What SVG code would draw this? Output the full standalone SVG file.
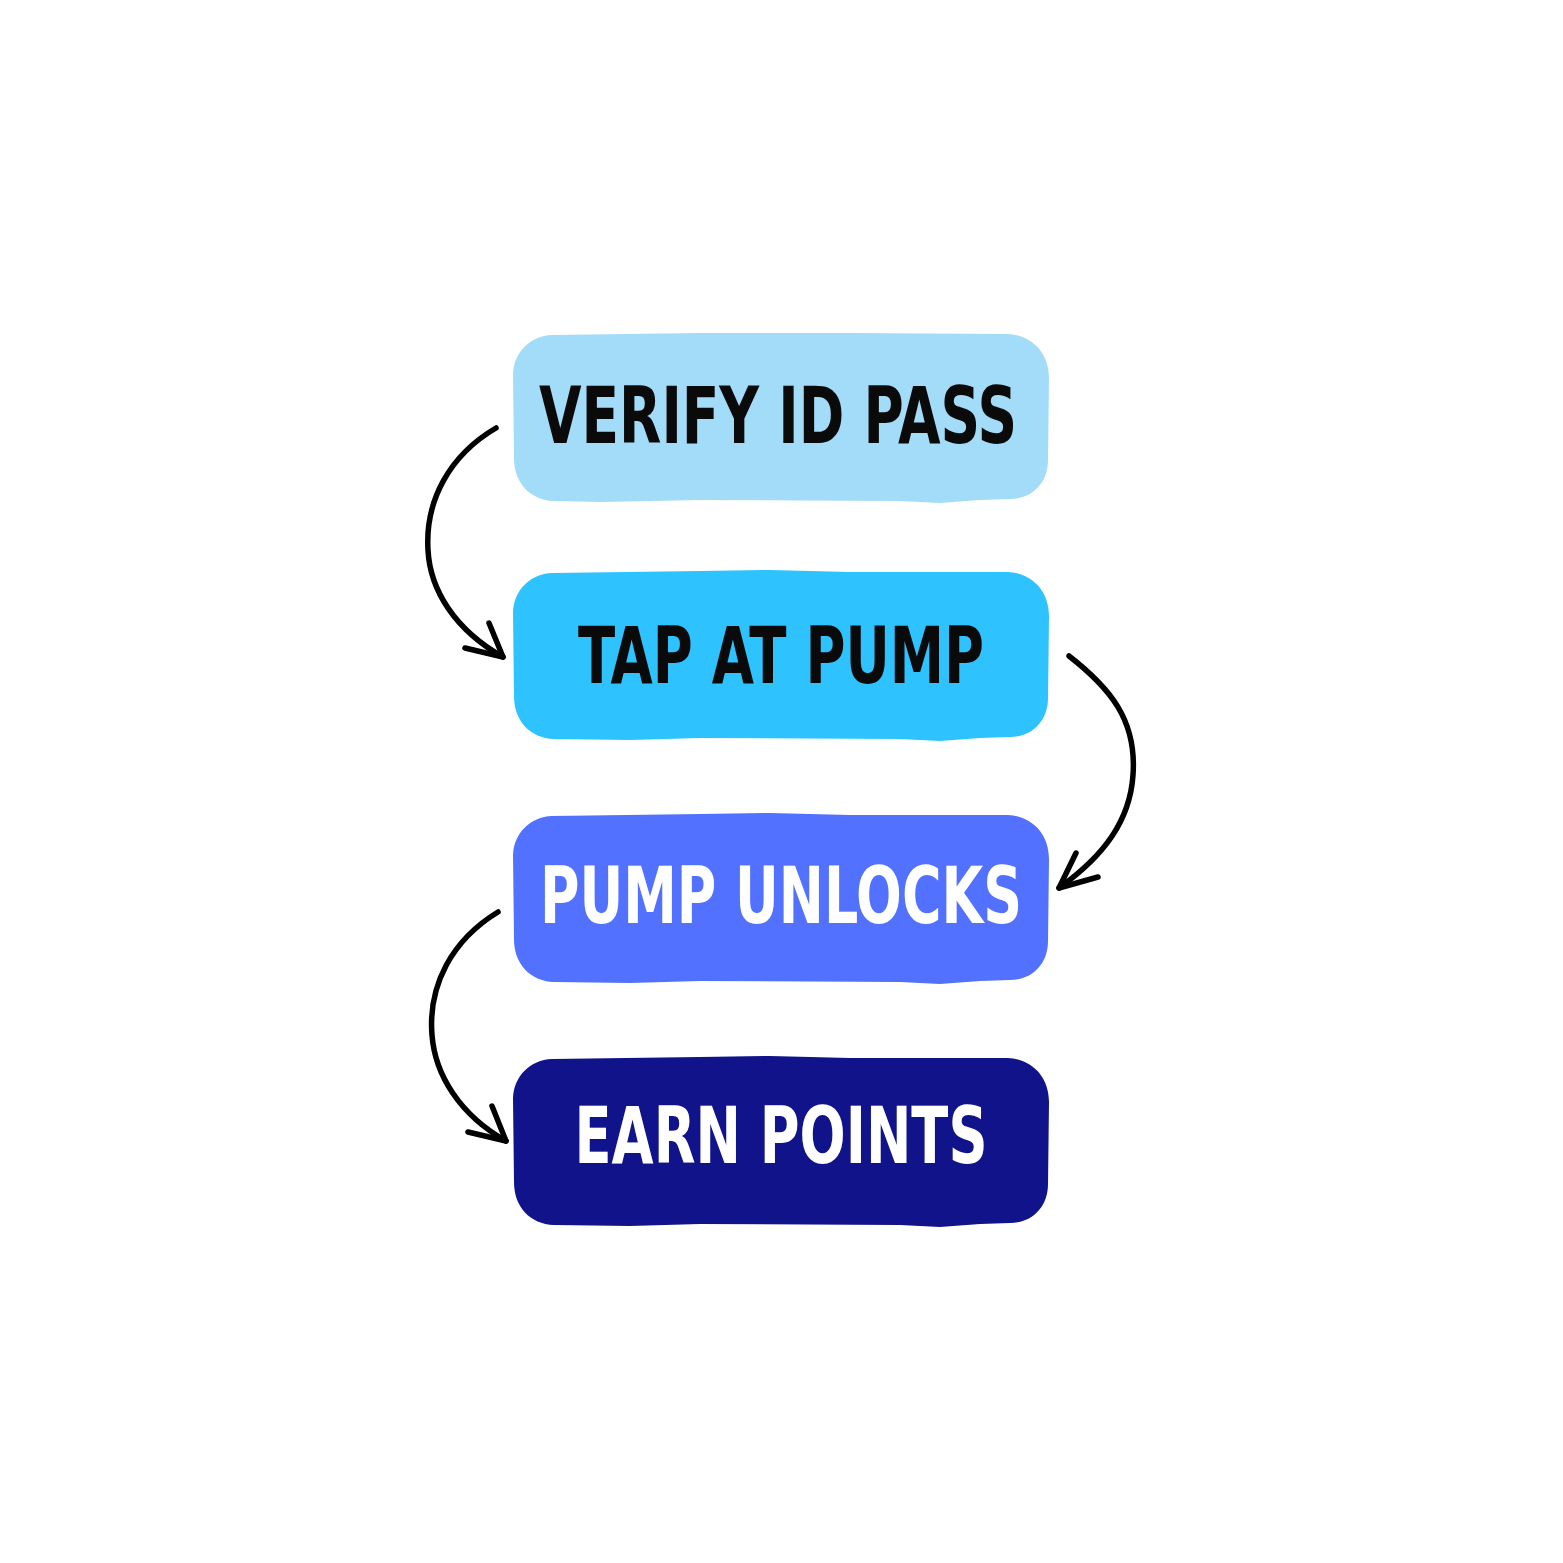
<svg xmlns="http://www.w3.org/2000/svg" width="1563" height="1563" viewBox="0 0 1563 1563">
<style>
.lbl{font-family:"DejaVu Sans Condensed","DejaVu Sans","Liberation Sans",sans-serif;font-weight:bold;font-size:78px;text-anchor:middle}
.dark{fill:#0a0a0a}
.light{fill:#ffffff}
.conn path{fill:none;stroke:#000;stroke-width:5.5;stroke-linecap:round;stroke-linejoin:round}
</style>
<rect width="1563" height="1563" fill="#fff"/>
<g id="node1">
<path d="M552,335 L700,333 L850,333 L1008,334 C1032,335 1049,353 1049,378 L1048,460 C1048,483 1032,499 1010,499 L980,500 L940,503 L900,501 L700,500 L600,502 L554,501 C530,500 514,483 514,458 L513,374 C514,352 530,336 552,335 Z" fill="#a3dcf9"/>
<text class="lbl dark" x="778" y="443" textLength="478" lengthAdjust="spacingAndGlyphs">VERIFY ID PASS</text>
</g>
<g id="node2">
<path d="M552,573 L700,571 L770,570 L850,572 L1008,572 C1032,573 1049,591 1049,616 L1048,698 C1048,721 1032,737 1010,737 L980,738 L940,741 L900,739 L700,738 L630,740 L554,739 C530,738 514,721 514,696 L513,612 C514,590 530,574 552,573 Z" fill="#2ec3ff"/>
<text class="lbl dark" x="781" y="683" textLength="406" lengthAdjust="spacingAndGlyphs">TAP AT PUMP</text>
</g>
<g id="node3">
<path d="M552,816 L700,814 L770,813 L850,815 L1008,815 C1032,816 1049,834 1049,859 L1048,941 C1048,964 1032,980 1010,980 L980,981 L940,984 L900,982 L700,981 L630,983 L554,982 C530,981 514,964 514,939 L513,855 C514,833 530,817 552,816 Z" fill="#5271ff"/>
<text class="lbl light" x="781" y="923" textLength="482" lengthAdjust="spacingAndGlyphs">PUMP UNLOCKS</text>
</g>
<g id="node4">
<path d="M552,1059 L700,1057 L770,1056 L850,1058 L1008,1058 C1032,1059 1049,1077 1049,1102 L1048,1184 C1048,1207 1032,1223 1010,1223 L980,1224 L940,1227 L900,1225 L700,1224 L630,1226 L554,1225 C530,1224 514,1207 514,1182 L513,1098 C514,1076 530,1060 552,1059 Z" fill="#10138a"/>
<text class="lbl light" x="781" y="1163" textLength="413" lengthAdjust="spacingAndGlyphs">EARN POINTS</text>
</g>
<g class="conn" id="connectors">
<path d="M496,428 C450,455 425,500 428,550 C430,590 455,630 503,657"/>
<path d="M489,623 L503,657 L465,648"/>
<path d="M1069,656 C1110,688 1137,720 1133,775 C1130,820 1105,855 1059,888"/>
<path d="M1076,853 L1059,888 L1098,877"/>
<path d="M498,912 C452,940 428,985 432,1035 C435,1075 460,1115 506,1141"/>
<path d="M492,1106 L506,1141 L468,1132"/>
</g>
</svg>
